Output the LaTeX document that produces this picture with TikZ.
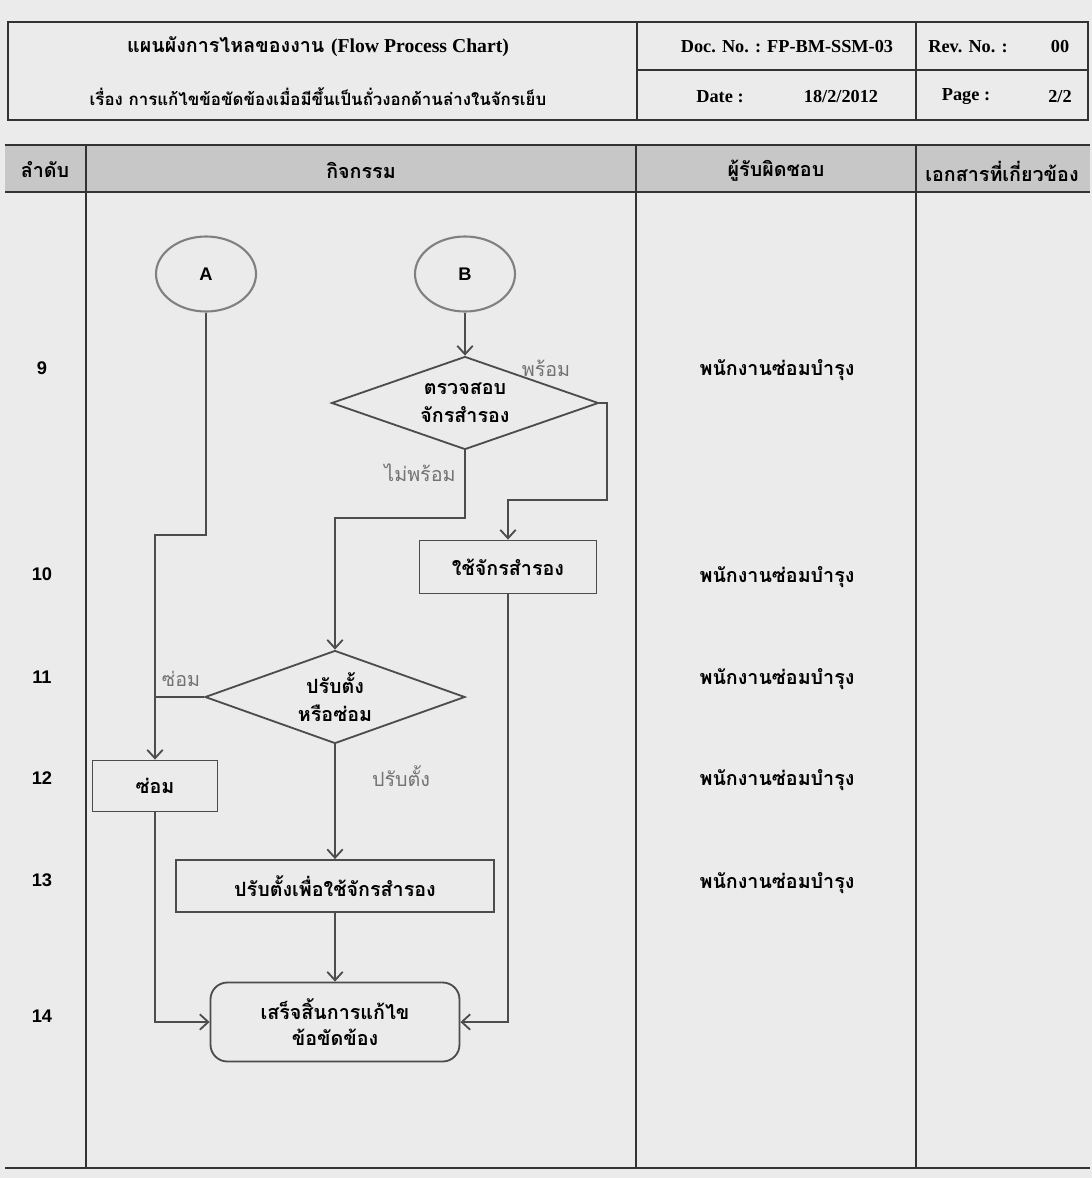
\documentclass[tikz,border=0pt]{standalone}
\usepackage{fontspec}
\setmainfont{Liberation Serif}
\newfontfamily\thai[Script=Thai]{Loma}
\newfontfamily\arialfont{Liberation Sans}
\usetikzlibrary{shapes.geometric, arrows.meta, positioning}
\newlength\pxl
\setlength\pxl{0.025cm}
\tikzset{
  tabline/.style={draw=black!80, line width=1.6pt},
  flowline/.style={draw=black!70, line width=1.3pt},
  actbox/.style={draw=black!70, line width=1.3pt, rectangle, inner sep=0pt,
    font=\thai\bfseries\fontsize{14}{19}\selectfont, align=center},
  decbox/.style={draw=black!70, line width=1.3pt, diamond, inner sep=0pt,
    font=\thai\bfseries\fontsize{14}{20}\selectfont, align=center},
  connbox/.style={draw=gray, line width=1.5pt, ellipse, inner sep=0pt,
    minimum width=100\pxl, minimum height=75\pxl,
    font=\arialfont\bfseries\fontsize{13}{15}\selectfont},
  branchlbl/.style={text=black!55, font=\thai\fontsize{14}{16}\selectfont},
  thaihead/.style={font=\thai\bfseries\fontsize{14}{16}\selectfont},
  numlbl/.style={font=\arialfont\bfseries\fontsize{13}{15}\selectfont},
  doclbl/.style={font=\bfseries\fontsize{13}{15}\selectfont},
}
\begin{document}
\begin{tikzpicture}[x=0.025cm, y=-0.025cm, >={Straight Barb[length=6pt,width=11pt]}]
  \useasboundingbox (0,0) rectangle (1092,1178);
  \fill[black!8] (0,0) rectangle (1092,1178);
  % document header
  \draw[tabline] (8,22) rectangle (1088,120);
  \draw[tabline] (637,22) -- (637,120);
  \draw[tabline] (916,22) -- (916,120);
  \draw[tabline] (637,70) -- (1088,70);
  \node[thaihead] (title) at (318,47) {แผนผังการไหลของงาน \normalfont\bfseries(Flow Process Chart)};
  \node[thaihead, font=\thai\bfseries\fontsize{12}{14}\selectfont] (subject) at (318,97) {เรื่อง การแก้ไขข้อขัดข้องเมื่อมีขึ้นเป็นถั่วงอกด้านล่างในจักรเย็บ};
  \node[doclbl] (docno) at (787,47) {Doc. No. : FP-BM-SSM-03};
  \node[doclbl] (date) at (720,97) {Date :};
  \node[doclbl] (dateval) at (841,97) {18/2/2012};
  \node[doclbl] (revno) at (968,47) {Rev. No. :};
  \node[doclbl] (revval) at (1060,47) {00};
  \node[doclbl] (page) at (966,97) {Page :};
  \node[doclbl] (pageval) at (1060,97) {2/2};
  % table frame
  \fill[black!22] (5,145) rectangle (1090,192);
  \draw[tabline] (5,145) -- (1090,145);
  \draw[tabline] (5,192) -- (1090,192);
  \draw[tabline] (5,1168) -- (1090,1168);
  \draw[tabline] (86,145) -- (86,1168);
  \draw[tabline] (636,145) -- (636,1168);
  \draw[tabline] (916,145) -- (916,1168);
  \node[thaihead] (hstep) at (45,170) {ลำดับ};
  \node[thaihead] (hact) at (361,170) {กิจกรรม};
  \node[thaihead] (hresp) at (776,171) {ผู้รับผิดชอบ};
  \node[thaihead] (hdoc) at (1002,171) {เอกสารที่เกี่ยวข้อง};
  % step numbers
  \node[numlbl] (n9) at (42,368) {9};
  \node[numlbl] (n10) at (42,574) {10};
  \node[numlbl] (n11) at (42,677) {11};
  \node[numlbl] (n12) at (42,778) {12};
  \node[numlbl] (n13) at (42,880) {13};
  \node[numlbl] (n14) at (42,1016) {14};
  % responsible
  \foreach \name/\yy in {r9/370, r10/577, r11/679, r12/780, r13/883}
    \node[thaihead] (\name) at (777,\yy) {พนักงานซ่อมบำรุง};
  % flow chart
  \node[connbox] (A) at (206,274) {A};
  \node[connbox] (B) at (465,274) {B};
  \node[decbox, minimum width=267\pxl, minimum height=93\pxl, aspect=2.87] (chk) at (465,403) {ตรวจสอบ\\จักรสำรอง};
  \node[actbox, minimum width=177\pxl, minimum height=53\pxl] (spare) at (508,567) {ใช้จักรสำรอง};
  \node[decbox, minimum width=260\pxl, minimum height=93\pxl, aspect=2.8] (adj) at (335,697) {ปรับตั้ง\\หรือซ่อม};
  \node[actbox, minimum width=125\pxl, minimum height=51\pxl] (rep) at (155,786) {ซ่อม};
  \node[actbox, minimum width=318\pxl, minimum height=52\pxl] (setup) at (335,886) {ปรับตั้งเพื่อใช้จักรสำรอง};
  \node[actbox, rounded corners=12pt, minimum width=249\pxl, minimum height=79\pxl] (done) at (335,1022) {เสร็จสิ้นการแก้ไข\\ข้อขัดข้อง};
  \coordinate (bendR) at (607,500);
  \coordinate (bendL) at (335,518);
  \coordinate (bendA) at (155,535);
  % connectors
  \draw[flowline,->] (B) -- (chk);
  \draw[flowline,->] (chk.east) -| (bendR) -| (spare.north);
  \draw[flowline,->] (chk.south) |- (bendL) -- (adj.north);
  \draw[flowline,->] (A.south) |- (bendA) -- (rep.north);
  \draw[flowline] (adj.west) -- (adj.west -| rep.north);
  \draw[flowline,->] (adj) -- (setup);
  \draw[flowline,->] (setup) -- (done);
  \draw[flowline,->] (rep.south) |- (done.west);
  \draw[flowline,->] (spare.south) |- (done.east);
  \node[branchlbl] (yes) at (546,368) {พร้อม};
  \node[branchlbl] (no) at (420,473) {ไม่พร้อม};
  \node[branchlbl] (fix) at (181,679) {ซ่อม};
  \node[branchlbl] (tune) at (401,776) {ปรับตั้ง};
\end{tikzpicture}
\end{document}
